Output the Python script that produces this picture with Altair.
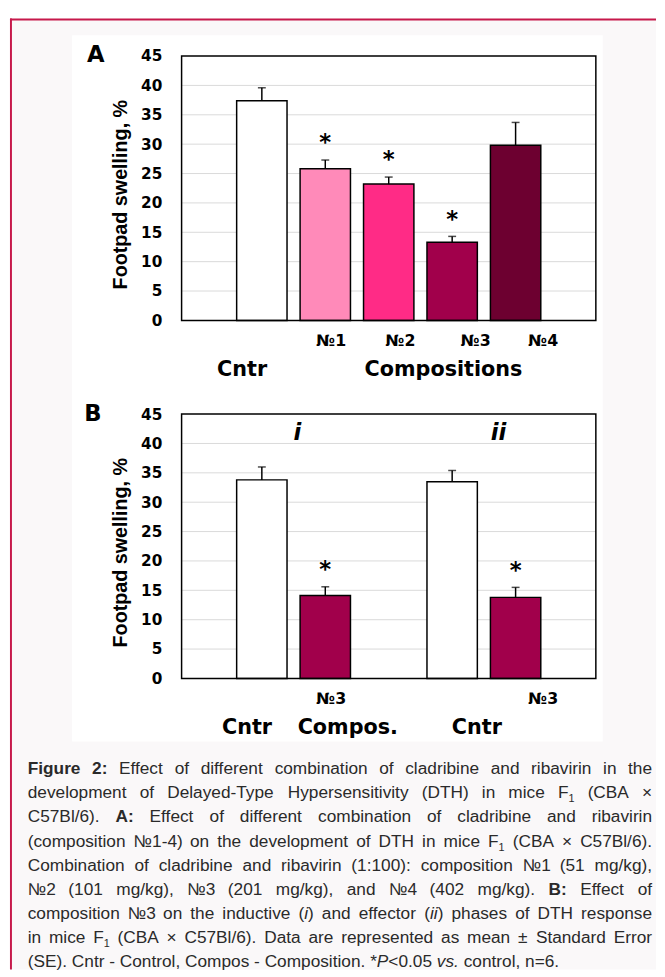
import re
import altair as alt
import pandas as pd

# ------------------------------------------------------------------ data
A_slots = ["Cntr", "№1", "№2", "№3", "№4"]
A_means = [37.4, 25.8, 23.2, 13.3, 29.8]
A_se = [2.2, 1.5, 1.2, 1.0, 3.9]
A_sig = [False, True, True, True, False]
A_colors = ["#ffffff", "#ff8ab9", "#ff2b86", "#a1004b", "#6d0030"]

B_slots = ["Cntr i", "№3 i", "gap", "Cntr ii", "№3 ii"]
B_bars = ["Cntr i", "№3 i", "Cntr ii", "№3 ii"]
B_means = [33.8, 14.1, 33.5, 13.8]
B_se = [2.2, 1.5, 1.9, 1.7]
B_sig = [False, True, False, True]
B_colors = ["#ffffff", "#a1004b", "#ffffff", "#a1004b"]
B_phases = ["i", "ii"]
B_phase_anchor = ["Cntr i", "Cntr ii"]

Y_TICKS = [0, 5, 10, 15, 20, 25, 30, 35, 40, 45]
GRID_TICKS = [5, 10, 15, 20, 25, 30, 35, 40]

CAPTION = [
    "**Figure 2:** Effect of different combination of cladribine and ribavirin in the",
    "development of Delayed-Type Hypersensitivity (DTH) in mice F~1~ (CBA ×",
    "C57Bl/6). **A:** Effect of different combination of cladribine and ribavirin",
    "(composition №1-4) on the development of DTH in mice F~1~ (CBA × C57Bl/6).",
    "Combination of cladribine and ribavirin (1:100): composition №1 (51 mg/kg),",
    "№2 (101 mg/kg), №3 (201 mg/kg), and №4 (402 mg/kg). **B:** Effect of",
    "composition №3 on the inductive (_i_) and effector (_ii_) phases of DTH response",
    "in mice F~1~ (CBA × C57Bl/6). Data are represented as mean ± Standard Error",
    "(SE). Cntr - Control, Compos - Composition. *_P_<0.05 _vs._ control, n=6.",
]

# ------------------------------------------------------------------ layout / style
PLOT_W, PLOT_H = 420, 268
OX, OY = 183, 49            # page position of panel A frame
GAP = 95                    # vertical gap between panel frames
CAP_Y0 = OY + PLOT_H + GAP + PLOT_H + GAP   # page y of caption view
PAGE_R, PAGE_B = 664, 975

CHART_FONT = "DejaVu Sans"
TITLE_FONT = "Liberation Sans"
CAP_FONT = "Liberation Sans"
CAP_SIZE = 17.5
SUB_SIZE = 11
CAP_LEFT, CAP_RIGHT = 27, 660
CAP_BASE0, CAP_LEAD = 777, 24.5
CAP_COLOR = "#2a2a2a"

ONE = alt.Data(values=[{"k": 1}])

Y_SCALE = alt.Scale(domain=[0, 45], nice=False, zero=True)
Y_AXIS = alt.Axis(
    values=Y_TICKS, grid=False, domain=False, ticks=False, tickSize=0, zindex=1,
    labelFont=CHART_FONT, labelFontWeight="bold", labelFontSize=15.5, labelColor="black",
    labelPadding=20,
    title="Footpad swelling, %", titleFont=TITLE_FONT, titleFontWeight="bold",
    titleFontSize=20, titleColor="black", titlePadding=10, titleY=140,
)


def cond(mapping, default):
    return {
        "condition": [{"test": f"datum.value === '{k}'", "value": v} for k, v in mapping.items()],
        "value": default,
    }


def x_axis(title, title_x, offsets, paddings, sizes, label_expr):
    return alt.Axis(
        domain=False, ticks=False, tickSize=0, grid=False, zindex=1, labelAngle=0,
        labelOverlap=False, labelExpr=label_expr,
        labelFont=CHART_FONT, labelFontWeight="bold", labelColor="black",
        labelBaseline="alphabetic",
        labelOffset=cond(offsets, 0), labelPadding=cond(paddings, 25),
        labelFontSize=cond(sizes, 16),
        title=title, titleFont=CHART_FONT, titleFontWeight="bold", titleFontSize=21,
        titleColor="black", titleX=title_x, titleY=56, titleAlign="center",
        titleBaseline="alphabetic",
    )


def rect(x1, x2, y1, y2, color):
    return alt.Chart(ONE).mark_rect(color=color, strokeWidth=0).encode(
        x=alt.value(x1), x2=alt.value(x2), y=alt.value(y1), y2=alt.value(y2))


def panel(slots, bars, means, se, sig, colors, axis, letter, letter_x, letter_y, extra_layers, pre_layers):
    df = pd.DataFrame({"slot": bars, "mean": means, "se": se, "sig": sig})
    X = alt.X("slot:N", scale=alt.Scale(domain=slots, paddingInner=0.206, paddingOuter=0.868), axis=axis)
    base = alt.Chart(df).transform_calculate(upper="datum.mean + datum.se")
    grid = alt.Chart(pd.DataFrame({"v": GRID_TICKS})).mark_rule(color="#d9d9d9", strokeWidth=1).encode(
        y=alt.Y("v:Q", scale=Y_SCALE, axis=Y_AXIS))
    barl = base.mark_bar(stroke="black", strokeWidth=1.5).encode(
        x=X, y=alt.Y("mean:Q", scale=Y_SCALE, axis=Y_AXIS),
        fill=alt.Fill("slot:N", scale=alt.Scale(domain=bars, range=colors), legend=None))
    err = base.mark_rule(color="black", strokeWidth=1.5).encode(
        x=X, y=alt.Y("mean:Q", scale=Y_SCALE, axis=Y_AXIS), y2="upper:Q")
    cap = base.mark_tick(color="black", thickness=1.5, size=8).encode(
        x=X, y=alt.Y("upper:Q", scale=Y_SCALE, axis=Y_AXIS))
    star = base.transform_filter("datum.sig").mark_text(
        text="*", font=CHART_FONT, fontWeight="bold", fontSize=23, baseline="alphabetic",
        align="center", dy=-10, color="black").encode(
        x=X, y=alt.Y("upper:Q", scale=Y_SCALE, axis=Y_AXIS))
    frame = alt.Chart(ONE).mark_rect(fillOpacity=0, stroke="black", strokeWidth=1.5).encode(
        x=alt.value(0), x2=alt.value("width"), y=alt.value(0), y2=alt.value("height"))
    lab = alt.Chart(ONE).mark_text(
        text=letter, font=CHART_FONT, fontWeight="bold", fontSize=23, align="center",
        baseline="alphabetic", color="black").encode(x=alt.value(letter_x), y=alt.value(letter_y))
    extra = [l(X) for l in extra_layers]
    return alt.layer(*pre_layers, grid, barl, err, cap, star, *extra, frame, lab).properties(
        width=PLOT_W, height=PLOT_H)


# ---- decorations (drawn first, inside panel A, page coordinates shifted to A's frame)
deco = [
    rect(8 - OX, PAGE_R - OX, 8 - OY, PAGE_B - OY, "#ffffff"),
    rect(10 - OX, PAGE_R - OX, 12 - OY, PAGE_B - OY, "#faf8f9"),
    rect(72 - OX, 610 - OX, 28 - OY, 744 - OY, "#ffffff"),
    rect(9 - OX, PAGE_R - OX, 11 - OY, 13 - OY, "#c6194b"),
    rect(9 - OX, 11 - OX, 11 - OY, PAGE_B - OY, "#c6194b"),
]

axis_A = x_axis(
    "Compositions", 265,
    {"Cntr": -20, "№1": 6, "№2": 12, "№3": 24, "№4": 28},
    {"Cntr": 56}, {"Cntr": 21},
    "datum.value",
)
chart_A = panel(A_slots, A_slots, A_means, A_se, A_sig, A_colors, axis_A, "A", -87, 6, [], deco)

axis_B = x_axis(
    "Compos.", 168,
    {"Cntr i": -15, "№3 i": 6, "Cntr ii": 25, "№3 ii": 28},
    {"Cntr i": 56, "Cntr ii": 56}, {"Cntr i": 21, "Cntr ii": 21},
    "datum.value === 'gap' ? '' : split(datum.value, ' ')[0]",
)

PHASE_DX = [36, 47]


def phase_layer(i):
    def make(X):
        d = pd.DataFrame({"slot": [B_phase_anchor[i]], "phase": [B_phases[i]]})
        return alt.Chart(d).mark_text(
            font=CHART_FONT, fontWeight="bold", fontStyle="italic", fontSize=23,
            align="center", baseline="alphabetic", dx=PHASE_DX[i], color="black").encode(
            x=X, y=alt.value(26), text="phase:N")
    return make


chart_B = panel(B_slots, B_bars, B_means, B_se, B_sig, B_colors, axis_B, "B", -90, 7,
                [phase_layer(0), phase_layer(1)], [])

# ------------------------------------------------------------------ caption (justified)
REG = {}
for chars, w in [
    (" ", 278), ("!", 278), ("%", 889), ("()", 333), ("*", 389), ("+<=>×±", 584),
    (",.:;/", 278), ("-", 333), ("0123456789", 556),
    ("ABEKPSVXY", 667), ("CDHNRU", 722), ("FTZ", 611), ("GOQ", 778), ("I", 278),
    ("J", 500), ("L", 556), ("M", 833), ("W", 944),
    ("abdeghnopqu", 556), ("ckvxyzs", 500), ("ft", 278), ("ijl", 222), ("m", 833),
    ("r", 333), ("w", 722), ("№", 1020),
]:
    for ch in chars:
        REG[ch] = w
BOLD = {}
for chars, w in [(" ", 278), (":", 333), ("0123456789", 556), ("F", 611), ("AB", 722),
                 ("i", 278), ("gu", 611), ("r", 389), ("e", 556)]:
    for ch in chars:
        BOLD[ch] = w


def seg_w(text, style):
    table = BOLD if style == "b" else REG
    size = SUB_SIZE if style == "s" else CAP_SIZE
    return sum(table.get(c, REG.get(c, 556)) for c in text) / 1000.0 * size


def parse(line):
    segs, pos = [], 0
    for m in re.finditer(r"\*\*(.+?)\*\*|_(.+?)_|~(.+?)~", line):
        if m.start() > pos:
            segs.append((line[pos:m.start()], "n"))
        if m.group(1):
            segs.append((m.group(1), "b"))
        elif m.group(2):
            segs.append((m.group(2), "i"))
        else:
            segs.append((m.group(3), "s"))
        pos = m.end()
    if pos < len(line):
        segs.append((line[pos:], "n"))
    words = [[]]
    for text, st in segs:
        for k, p in enumerate(text.split(" ")):
            if k > 0:
                words.append([])
            if p:
                words[-1].append((p, st))
    return [w for w in words if w]


rows = []
for li, line in enumerate(CAPTION):
    words = parse(line)
    widths = [sum(seg_w(t, s) for t, s in w) for w in words]
    if li == len(CAPTION) - 1 or len(words) < 2:
        gap = REG[" "] / 1000.0 * CAP_SIZE
    else:
        gap = (CAP_RIGHT - CAP_LEFT - sum(widths)) / (len(words) - 1)
    x = CAP_LEFT
    base_y = CAP_BASE0 + li * CAP_LEAD
    for w, ww in zip(words, widths):
        xx = x
        for t, s in w:
            rows.append({"t": t, "s": s, "x": xx - OX,
                         "y": base_y - CAP_Y0 + (4 if s == "s" else 0)})
            xx += seg_w(t, s)
        x += ww + gap

cap_df = pd.DataFrame(rows)


def cap_layer(style, **kw):
    return alt.Chart(cap_df).transform_filter(f"datum.s === '{style}'").mark_text(
        align="left", baseline="alphabetic", font=CAP_FONT, color=CAP_COLOR, **kw).encode(
        x=alt.X("x:Q", scale=None, axis=None), y=alt.Y("y:Q", scale=None, axis=None),
        text="t:N")


chart_C = alt.layer(
    cap_layer("n", fontSize=CAP_SIZE),
    cap_layer("b", fontSize=CAP_SIZE, fontWeight="bold"),
    cap_layer("i", fontSize=CAP_SIZE, fontStyle="italic"),
    cap_layer("s", fontSize=SUB_SIZE),
).properties(width=PLOT_W, height=150)

chart = alt.vconcat(chart_A, chart_B, chart_C, spacing=GAP, bounds="flush").resolve_scale(
    fill="independent"
).properties(
    padding=0, background="#ffffff"
).configure_view(stroke="transparent")

chart.save("out.html", embed_options={"renderer": "svg", "actions": False})
